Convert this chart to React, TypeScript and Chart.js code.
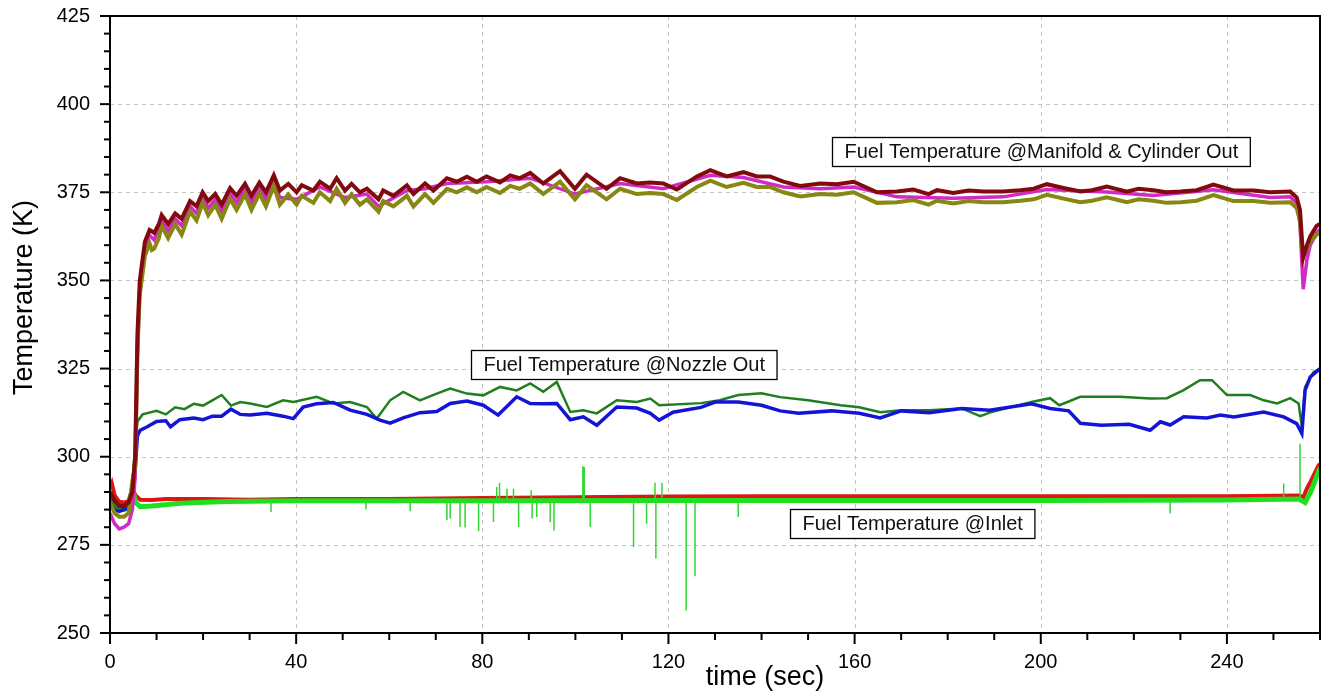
import React, { useEffect, useRef } from 'react';
import { Chart, registerables } from 'chart.js';

Chart.register(...registerables);

// ---------- axis definitions ----------
const X_MIN = 0;
const X_MAX = 260;
const Y_MIN = 250;
const Y_MAX = 425;
const xTickValues = [0, 40, 80, 120, 160, 200, 240];
const yTickValues = [250, 275, 300, 325, 350, 375, 400, 425];
const xMinorStep = 10;
const yMinorStep = 5;
const xTitle = 'time (sec)';
const yTitle = 'Temperature (K)';

// ---------- series: [time (s), temperature (K)] ----------
const manifoldOut: [number, number][] = [
  [0, 290], [1, 287.5], [2, 286], [3, 286], [4, 287], [4.8, 290], [5.4, 300], [5.9, 335], [6.4, 350], [7.5, 361],
  [8.5, 364.3], [9.5, 363.5], [10.5, 366], [11.1, 368.5], [12.5, 366], [14, 369], [15.4, 367.5], [17.2, 372.5], [18.6, 371], [19.9, 375],
  [21.1, 372.5], [22.6, 374.5], [24, 371.5], [25.8, 376.2], [27.2, 374], [29, 377.4], [30.4, 374], [32.1, 377.7], [33.5, 375], [35.2, 379.8],
  [36.5, 375.5], [38.3, 377.4], [40.1, 375], [41.2, 377], [43.7, 375.5], [45.1, 378], [47.3, 376], [48.7, 379], [50.5, 375.5], [51.9, 377.4],
  [53.7, 375], [55.2, 376], [57.7, 373], [58.7, 375.5], [60.9, 374], [63.8, 377], [65.2, 374.5], [67.7, 377.5], [69.5, 375.5], [72.4, 379],
  [74.5, 378], [76.7, 379.4], [78.8, 378], [80.9, 379.5], [83.8, 377.8], [86, 379.8], [88, 379], [90.3, 380.5], [93.1, 377.5], [96.7, 381],
  [99.9, 376], [102.4, 380], [106.7, 376], [109.6, 379], [113.2, 377.5], [116, 377.8], [118.9, 377.5], [121.8, 375.8], [126.1, 379.5], [129, 381.3],
  [132.5, 379.5], [136.1, 380.7], [139, 379.5], [141.8, 379.5], [144.7, 378], [148.3, 376.8], [152.6, 377.5], [156.2, 377.3], [159.8, 378], [164.8, 375],
  [169.1, 375.2], [172.6, 375.8], [175.9, 374.5], [177.7, 375.6], [181.2, 374.8], [184.5, 375.5], [187.7, 375.2], [191.9, 375.2], [195.6, 375.6], [198.5, 376],
  [201.3, 377.3], [204.9, 376.2], [208.5, 375.2], [211, 375.6], [214.2, 376.6], [218.5, 375.2], [221, 376], [224.2, 375.6], [227, 375], [230, 375.2],
  [233.5, 375.6], [237.1, 377.2], [241.4, 375.5], [245.7, 375.5], [249.3, 375], [253.6, 375.2], [255, 373.5], [255.7, 370], [256.1, 362], [256.4, 356.5],
  [257.2, 360], [257.9, 362.5], [259.3, 365.5], [260, 366],
];

const cylinderOut: [number, number][] = [
  [0, 287], [1, 284], [2, 283], [3, 283], [4, 284], [4.8, 293], [5.4, 297], [5.9, 331], [6.4, 346], [7.5, 357],
  [8.5, 360.5], [9, 358.6], [9.5, 359], [10.5, 362], [11.1, 365.5], [12.5, 362], [14, 366], [15.4, 363], [17.2, 369.5], [18.6, 367],
  [19.9, 372], [21.1, 368.5], [22.6, 371.5], [24, 367.5], [25.8, 373.2], [27.2, 370], [29, 374.4], [30.4, 370], [32.1, 374.7], [33.5, 371],
  [35.2, 376.8], [36.5, 371.5], [38.3, 374.4], [40.1, 371.5], [41.2, 374], [43.7, 372], [45.1, 375], [47.3, 372.5], [48.7, 376], [50.5, 372],
  [51.9, 374.4], [53.7, 371.5], [55.2, 373], [57.7, 369.5], [58.7, 372.5], [60.9, 371], [63.8, 374], [65.2, 371], [67.7, 374.5], [69.5, 372],
  [72.4, 376], [74.5, 375], [76.7, 376.4], [78.8, 375], [80.9, 376.5], [83.8, 374.8], [86, 376.8], [88, 376], [90.3, 377.5], [93.1, 374.5],
  [96.7, 378], [99.9, 373], [102.4, 377], [106.7, 373], [109.6, 376], [113.2, 374.5], [116, 374.8], [118.9, 374.5], [121.8, 372.8], [126.1, 376.5],
  [129, 378.3], [132.5, 376.5], [136.1, 377.7], [139, 376.5], [141.8, 376.5], [144.7, 375], [148.3, 373.8], [152.6, 374.5], [156.2, 374.3], [159.8, 375],
  [164.8, 372], [169.1, 372.2], [172.6, 372.8], [175.9, 371.5], [177.7, 372.6], [181.2, 371.8], [184.5, 372.5], [187.7, 372.2], [191.9, 372.2], [195.6, 372.6],
  [198.5, 373], [201.3, 374.3], [204.9, 373.2], [208.5, 372.2], [211, 372.6], [214.2, 373.6], [218.5, 372.2], [221, 373], [224.2, 372.6], [227, 372],
  [230, 372.2], [233.5, 372.6], [237.1, 374.2], [241.4, 372.5], [245.7, 372.5], [249.3, 372], [253.6, 372.2], [255, 370.5], [255.7, 367], [256.1, 360],
  [256.4, 357], [257.2, 359], [257.9, 361], [259.3, 363], [260, 363.5],
];

const cylinderOutB: [number, number][] = [
  [0, 284], [1, 281], [2, 279.5], [3, 280], [4, 281], [4.8, 285], [5.4, 294], [5.9, 328], [6.4, 348], [7.5, 359.5],
  [8.5, 362.8], [9.5, 361.5], [11.1, 367], [12.5, 364], [14, 367.5], [15.4, 365.5], [17.2, 371], [18.6, 369], [19.9, 373.5], [21.1, 370.5],
  [22.6, 373], [24, 369.5], [25.8, 374.7], [27.2, 372], [29, 376], [30.4, 372], [32.1, 376.2], [33.5, 373], [35.2, 378.3], [36.5, 373.5],
  [40.1, 373], [45.1, 376.5], [50.5, 373.5], [55.2, 374.5], [57.7, 371], [63.8, 375.5], [67.7, 376], [72.4, 377.5], [80.9, 378], [90.3, 379],
  [99.9, 374.5], [109.6, 377.5], [118.9, 376], [129, 379.8], [136.1, 379.2], [144.7, 376.5], [152.6, 376], [159.8, 376.5], [169.1, 373.7], [181.2, 373.3],
  [191.9, 373.7], [201.3, 375.8], [214.2, 375.1], [224.2, 374.1], [237.1, 375.7], [249.3, 373.5], [253.6, 373.7], [255, 372], [255.7, 366], [256.1, 355],
  [256.4, 347.5], [257.2, 356], [257.9, 360], [259.3, 363.5], [260, 364.5],
];

const nozzleOutA: [number, number][] = [
  [0, 286.5], [1, 285], [2, 284.5], [3, 285], [4, 285.5], [4.8, 290], [5.4, 296], [5.9, 306], [6.5, 307.5], [8, 308.5],
  [10, 310], [12, 310.2], [13, 308.5], [15, 310.5], [18, 311], [20, 310.5], [22, 311.5], [24, 311.5], [26, 313.5], [28, 312],
  [30.1, 311.8], [33.7, 312.3], [37.2, 311.5], [39.4, 310.8], [41.5, 314.1], [44.4, 315], [48, 315.4], [51.6, 313.2], [55.2, 312], [57.3, 310.8],
  [58, 310.4], [60.2, 309.5], [63, 311], [66.6, 312.5], [70.2, 312.8], [73.1, 315.1], [76.7, 315.8], [80.2, 314.6], [83.4, 311.8], [87.4, 317],
  [90.3, 315.1], [93.1, 315], [96, 315.1], [98.9, 310.5], [101.7, 311.3], [104.6, 308.9], [108.9, 314.1], [113.2, 313.8], [116.1, 312.3], [118, 310.4],
  [121, 312.6], [127, 314], [130, 315.5], [135, 315.5], [140, 314.6], [144, 313], [148, 312.3], [155, 313], [161, 312.3], [165.5, 311],
  [170, 313], [176, 312.5], [183, 313.7], [189, 313.2], [198, 315], [202, 313.7], [206, 313], [208.5, 309.5], [213, 308.9], [219, 309.2],
  [223.5, 307.5], [225.7, 309.9], [227.8, 309], [230.7, 311.3], [235.7, 311], [238.6, 311.8], [241.5, 311.3], [247.9, 312.7], [252.2, 311.3], [255, 309.4],
  [256.1, 306.6], [256.8, 318.9], [257.9, 322.6], [260, 325],
];

const nozzleOutB: [number, number][] = [
  [0, 288], [1, 286], [2, 285.5], [3, 285.5], [4, 286], [4.8, 293], [5.4, 302], [5.9, 310], [7, 312], [10, 313],
  [12, 312], [14, 314], [16, 313.5], [18, 315], [20, 314.5], [22, 316], [24, 317.5], [26, 314.5], [28, 315.5], [30.1, 315.1],
  [33.7, 314.1], [37.2, 316], [39.4, 315.5], [44.4, 317], [48, 315.1], [51.6, 315.5], [55.2, 314.1], [57.3, 310.8], [60.2, 316], [63, 318.4],
  [66.6, 316], [70.2, 317.9], [73.1, 319.3], [76.7, 317.9], [80.2, 317.4], [83.8, 319.8], [87.4, 318.8], [90.3, 320.8], [93.1, 318.4], [96, 321.2],
  [98.9, 312.7], [101.7, 313.2], [104.6, 312.3], [108.9, 316], [113.2, 315.5], [116.1, 316.5], [118, 314.6], [127, 315.2], [131, 316], [135, 317.5],
  [140, 318], [144, 316.9], [150, 316], [157, 314.6], [161, 314], [165.5, 312.6], [170, 313.2], [176, 313.2], [183, 313.7], [187, 311.5],
  [189, 312.5], [193.4, 314], [198, 315.5], [202, 316.6], [204, 314.6], [208.5, 317], [217, 317], [223.5, 316.5], [227.1, 316.6], [230.7, 318.9],
  [234.2, 321.7], [236.8, 321.7], [240, 317.5], [245, 317.5], [247.9, 316], [250.8, 315.1], [253.6, 316.6], [255.4, 315.1], [256.1, 308.5], [256.8, 319.8],
  [258.6, 324], [260, 325],
];

const inletA: [number, number][] = [
  [0, 291], [0.4, 292.4], [1, 289], [2, 287.2], [3, 287], [4, 287.5], [4.8, 291], [5.5, 289], [6.5, 287.8], [9, 287.7],
  [12, 288], [20, 288], [30, 287.8], [40, 288], [60, 288], [80, 288.3], [100, 288.5], [120, 288.7], [140, 288.8], [160, 288.8],
  [180, 288.8], [200, 288.8], [220, 288.8], [240, 288.8], [255.5, 289], [256.4, 288.5], [257.2, 291], [258, 293], [259.7, 297.6], [260, 297.8],
];

const inletB: [number, number][] = [
  [0, 289], [1, 285.5], [2, 285], [3, 285], [4, 285.5], [4.8, 291], [5.5, 287], [6.5, 285.8], [9, 286], [15, 286.8],
  [25, 287.3], [40, 287.5], [80, 287.5], [120, 287.6], [160, 287.6], [200, 287.6], [240, 287.7], [255.5, 288], [256.8, 287], [258, 290],
  [260, 296.8],
];

// brief sensor spikes on the inlet trace: [time, peak temperature]
const inletBSpikeBase = 287.5;
const inletBSpikes: [number, number][] = [
  [34.6, 284.3], [55, 285], [64.5, 284.5], [72.4, 282], [73.1, 282.5], [75.2, 280.1], [76.3, 279.9], [79.2, 278.9], [82.4, 281.5], [83.1, 291.4],
  [83.7, 292.6], [85.3, 290.9], [86.7, 290.9], [87.8, 280.1], [90.5, 290.5], [90.7, 282.5], [91.7, 282.9], [94.6, 281.5], [95.4, 279.1], [101.6, 297.3],
  [101.9, 297.1], [103.2, 280.1], [112.5, 274.4], [115.3, 281], [117.1, 292.6], [117.3, 271.1], [118.6, 292.6], [123.8, 256.4], [125.7, 266.1], [135, 282.9],
  [227.8, 283.9], [252.2, 292.4], [255.7, 303.7],
];

const annotations = [
  { text: 'Fuel Temperature @Manifold & Cylinder Out', x: 155.2, y: 386.7 },
  { text: 'Fuel Temperature @Nozzle Out', x: 77.6, y: 326.2 },
  { text: 'Fuel Temperature @Inlet', x: 146.1, y: 281.0 },
];

const FONT = '"Liberation Sans", Arial, sans-serif';

const toXY = (arr: [number, number][]) => arr.map(([x, y]) => ({ x, y }));

const decorPlugin = {
  id: 'decor',
  beforeDatasetsDraw(chart: any) {
    const { ctx, chartArea: a, scales } = chart;
    const xs = scales.x;
    const ys = scales.y;
    ctx.save();
    ctx.strokeStyle = '#c3c3c3';
    ctx.lineWidth = 1;
    ctx.setLineDash([4, 4]);
    for (const v of xTickValues) {
      if (v <= X_MIN || v >= X_MAX) continue;
      const px = Math.round(xs.getPixelForValue(v)) + 0.5;
      ctx.beginPath();
      ctx.moveTo(px, a.top);
      ctx.lineTo(px, a.bottom);
      ctx.stroke();
    }
    for (const v of yTickValues) {
      if (v <= Y_MIN || v >= Y_MAX) continue;
      const py = Math.round(ys.getPixelForValue(v)) + 0.5;
      ctx.beginPath();
      ctx.moveTo(a.left, py);
      ctx.lineTo(a.right, py);
      ctx.stroke();
    }
    ctx.restore();
  },
  afterDatasetsDraw(chart: any) {
    const { ctx, chartArea: a, scales } = chart;
    const xs = scales.x;
    const ys = scales.y;
    ctx.save();
    // frame
    ctx.strokeStyle = '#000';
    ctx.lineWidth = 2;
    ctx.setLineDash([]);
    ctx.strokeRect(a.left, a.top, a.right - a.left, a.bottom - a.top);
    // ticks
    ctx.lineWidth = 2;
    for (let v = X_MIN; v <= X_MAX + 1e-9; v += xMinorStep) {
      const major = xTickValues.includes(v);
      const px = xs.getPixelForValue(v);
      ctx.beginPath();
      ctx.moveTo(px, a.bottom);
      ctx.lineTo(px, a.bottom + (major ? 11 : 7));
      ctx.stroke();
    }
    for (let v = Y_MIN; v <= Y_MAX + 1e-9; v += yMinorStep) {
      const major = yTickValues.includes(v);
      const py = ys.getPixelForValue(v);
      ctx.beginPath();
      ctx.moveTo(a.left, py);
      ctx.lineTo(a.left - (major ? 10 : 6), py);
      ctx.stroke();
    }
    // annotation boxes
    ctx.font = `20px ${FONT}`;
    ctx.textBaseline = 'middle';
    ctx.textAlign = 'left';
    for (const an of annotations) {
      const w = ctx.measureText(an.text).width + 24;
      const h = 29;
      const x0 = Math.round(xs.getPixelForValue(an.x)) + 0.5;
      const yc = ys.getPixelForValue(an.y);
      const y0 = Math.round(yc - h / 2) + 0.5;
      ctx.fillStyle = '#fff';
      ctx.fillRect(x0, y0, w, h);
      ctx.strokeStyle = '#000';
      ctx.lineWidth = 1.3;
      ctx.strokeRect(x0, y0, w, h);
      ctx.fillStyle = '#111';
      ctx.fillText(an.text, x0 + 12, yc + 1);
    }
    // axis titles
    ctx.fillStyle = '#000';
    ctx.font = `27px ${FONT}`;
    ctx.textAlign = 'center';
    ctx.textBaseline = 'middle';
    ctx.fillText(xTitle, (a.left + a.right) / 2 + 50, 678);
    ctx.translate(25, (a.top + a.bottom) / 2 - 27);
    ctx.rotate(-Math.PI / 2);
    ctx.fillText(yTitle, 0, 0);
    ctx.restore();
  },
};

export default function App() {
  const ref = useRef<HTMLCanvasElement>(null);
  useEffect(() => {
    document.body.style.margin = '0';
    const canvas = ref.current;
    if (!canvas) return;
    const line = (data: [number, number][], color: string, width: number, order: number) => ({
      data: toXY(data),
      borderColor: color,
      backgroundColor: color,
      borderWidth: width,
      pointRadius: 0,
      tension: 0,
      fill: false,
      order,
    });
    const spikeData: any[] = [];
    for (const [t, peak] of inletBSpikes) {
      spikeData.push({ x: t, y: inletBSpikeBase }, { x: t, y: peak }, { x: t, y: null });
    }
    const chart = new Chart(canvas, {
      type: 'line',
      data: {
        datasets: [
          line(manifoldOut, '#820a0f', 4, 1),
          line(cylinderOut, '#878712', 4, 2),
          line(cylinderOutB, '#d22ac4', 3.5, 3),
          line(nozzleOutA, '#1414d6', 3.5, 4),
          line(nozzleOutB, '#1f7f1f', 2.5, 5),
          { ...line([], '#35d535', 1.5, 6), data: spikeData, spanGaps: false },
          line(inletB, '#1fe01f', 5, 7),
          line(inletA, '#e01414', 4, 8),
        ] as any,
      },
      options: {
        animation: false,
        responsive: false,
        devicePixelRatio: 1,
        parsing: false as any,
        normalized: true,
        layout: { padding: { top: 16, right: 20, left: 0, bottom: 0 } },
        plugins: { legend: { display: false }, tooltip: { enabled: false }, title: { display: false } },
        elements: { point: { radius: 0 }, line: { tension: 0 } },
        scales: {
          x: {
            type: 'linear',
            min: X_MIN,
            max: X_MAX,
            afterBuildTicks: (s: any) => {
              s.ticks = xTickValues.map((v) => ({ value: v }));
            },
            afterFit: (s: any) => {
              s.height = 66;
              s.paddingLeft = 0;
              s.paddingRight = 0;
            },
            grid: { display: false, drawTicks: false },
            border: { display: false },
            ticks: { padding: 17, color: '#000', font: { size: 20, family: FONT }, maxRotation: 0, autoSkip: false },
          },
          y: {
            type: 'linear',
            min: Y_MIN,
            max: Y_MAX,
            afterBuildTicks: (s: any) => {
              s.ticks = yTickValues.map((v) => ({ value: v }));
            },
            afterFit: (s: any) => {
              s.width = 110;
              s.paddingTop = 0;
              s.paddingBottom = 0;
            },
            grid: { display: false, drawTicks: false },
            border: { display: false },
            ticks: { padding: 20, color: '#000', font: { size: 20, family: FONT }, autoSkip: false },
          },
        },
      },
      plugins: [decorPlugin],
    });
    return () => chart.destroy();
  }, []);
  return <canvas ref={ref} width={1340} height={699} style={{ display: 'block' }} />;
}
